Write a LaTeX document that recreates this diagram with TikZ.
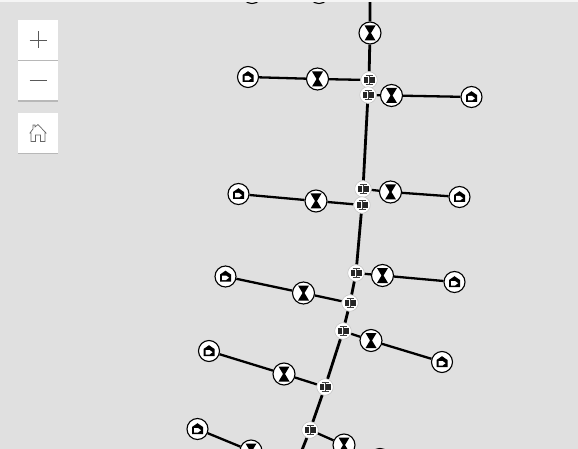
\documentclass[tikz,border=0pt]{standalone}
\usetikzlibrary{backgrounds}
\begin{document}
\begin{tikzpicture}[x=1pt,y=-1pt,
  mainline/.style={line width=2.8pt,black},
  branchline/.style={line width=2.3pt,black},
  hourglass/.style={circle,draw=black,line width=1.1pt,fill=white,minimum size=22pt,inner sep=0pt,
    path picture={
      \fill[black] ([shift={(-5.5pt,7.5pt)}]path picture bounding box.center) -- ++(11pt,0) -- ++(-4.5pt,-7.5pt) -- ++(4.5pt,-7.5pt) -- ++(-11pt,0) -- ++(4.5pt,7.5pt) -- cycle;
    }},
  housenode/.style={circle,draw=black,line width=1.1pt,fill=white,minimum size=21pt,inner sep=0pt,
    path picture={
      \fill[black] ([shift={(-5.5pt,-5pt)}]path picture bounding box.center) -- ++(0,7pt) -- ++(5.5pt,3.8pt) -- ++(5.5pt,-3.8pt) -- ++(0,-7pt) -- cycle;
      \fill[white] ([shift={(-3.5pt,-3.5pt)}]path picture bounding box.center) -- ++(0,4.5pt) -- ++(4pt,0) -- ++(3pt,-2.2pt) -- ++(-3pt,-2.3pt) -- cycle;
    }},
  switchnode/.style={circle,draw=black!22,line width=.6pt,fill=white,minimum size=16.5pt,inner sep=0pt,
    path picture={
      \fill[black!85] ([shift={(-5.5pt,-2.8pt)}]path picture bounding box.center) rectangle ++(4.8pt,5.6pt);
      \fill[black!85] ([shift={(.7pt,-2.8pt)}]path picture bounding box.center) rectangle ++(4.8pt,5.6pt);
      \draw[black!75,line width=.7pt] ([shift={(-3.5pt,-4.3pt)}]path picture bounding box.center) -- ++(7pt,0);
      \draw[black!75,line width=.7pt] ([shift={(-3.5pt,4.3pt)}]path picture bounding box.center) -- ++(7pt,0);
      \draw[black!75,line width=.7pt] ([shift={(0pt,-4.3pt)}]path picture bounding box.center) -- ++(0,8.6pt);
    }},
  panelbox/.style={rectangle,fill=white,minimum width=40pt,inner sep=0pt},
]
\useasboundingbox (0,0) rectangle (578,449);
\begin{scope}
\clip (0,0) rectangle (578,449);

\coordinate (top) at (370,0);
\coordinate (bot) at (300,455);

\node[hourglass] (h0) at (370,33) {};
\node[switchnode] (s1) at (369,80) {};
\node[switchnode] (s2) at (368,95) {};
\node[switchnode] (s3) at (363,189) {};
\node[switchnode] (s4) at (362,205) {};
\node[switchnode] (s5) at (356,273) {};
\node[switchnode] (s6) at (350,303) {};
\node[switchnode] (s7) at (343,331) {};
\node[switchnode] (s8) at (325,387) {};
\node[switchnode] (s9) at (310,430) {};

\node[hourglass] (h1) at (317.5,79) {};
\node[hourglass] (h2) at (391.5,95.5) {};
\node[hourglass] (h3) at (316,201) {};
\node[hourglass] (h4) at (390.5,192) {};
\node[hourglass] (h5) at (303.5,293) {};
\node[hourglass] (h6) at (382.5,275.5) {};
\node[hourglass] (h7) at (284,374) {};
\node[hourglass] (h8) at (371,340.5) {};
\node[hourglass] (h9) at (251,451) {};
\node[hourglass] (h10) at (344,445) {};

\node[housenode] (c1) at (248,77) {};
\node[housenode] (c2) at (471.5,97) {};
\node[housenode] (c3) at (238.5,194) {};
\node[housenode] (c4) at (459.5,197) {};
\node[housenode] (c5) at (225.5,276.5) {};
\node[housenode] (c6) at (454.5,282) {};
\node[housenode] (c7) at (209,351) {};
\node[housenode] (c8) at (442,362) {};
\node[housenode] (c9) at (197.5,429) {};
\node[housenode] (c10) at (380,459) {};
\node[housenode] (c11) at (252,-7) {};
\node[housenode] (c12) at (319,-7) {};

\begin{scope}[on background layer]
\fill[black!12] (0,0) rectangle (578,449);
\draw[mainline] (top) -- (h0) -- (s1) -- (s2) -- (s3) -- (s4) -- (s5) -- (s6) -- (s7) -- (s8) -- (s9) -- (bot);
\draw[branchline] (c1) -- (h1) -- (s1);
\draw[branchline] (c2) -- (h2) -- (s2);
\draw[branchline] (c3) -- (h3) -- (s4);
\draw[branchline] (c4) -- (h4) -- (s3);
\draw[branchline] (c5) -- (h5) -- (s6);
\draw[branchline] (c6) -- (h6) -- (s5);
\draw[branchline] (c7) -- (h7) -- (s8);
\draw[branchline] (c8) -- (h8) -- (s7);
\draw[branchline] (c9) -- (h9);
\draw[branchline] (s9) -- (h10);
\end{scope}

\fill[white!96!black] (0,0) rectangle (578,2);
\end{scope}

\fill[black!28] (18,22) rectangle (58,102);
\node[panelbox,minimum height=40pt] (zoomin) at (38,40.5) {};
\node[panelbox,minimum height=39pt] (zoomout) at (38,81) {};
\fill[black!28] (18,114) rectangle (58,154);
\node[panelbox,minimum height=40pt] (homebtn) at (38,133) {};
\draw[black!65,line width=.8pt] (29.5,40) -- (46.5,40) (38,31.5) -- (38,48);
\draw[black!65,line width=.8pt] (29.5,80.5) -- (46.5,80.5);
\draw[black!60,line width=.7pt] (31,141.5) -- (31,133) -- (30,133) -- (33,129) -- (33,125) -- (35,125) -- (35,127) -- (38,124.5) -- (46,133) -- (45,133) -- (45,141.5) -- (40.5,141.5) -- (40.5,135) -- (35.5,135) -- (35.5,141.5) -- cycle;
\end{tikzpicture}
\end{document}
